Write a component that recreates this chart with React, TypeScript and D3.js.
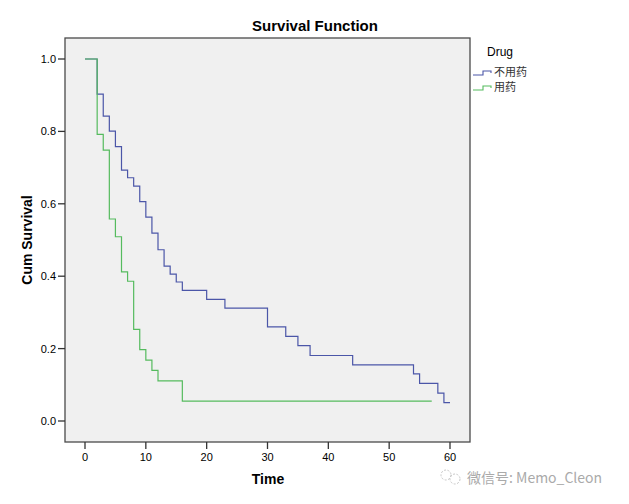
import React from "react";
import * as d3 from "d3";

const seriesNames = ["不用药", "用药"];
const seriesColors = ["#4b56a8", "#55bb5e"];

// Kaplan-Meier step points: [time, survival]
const times1 = [0, 2, 3, 4, 5, 6, 7, 8, 9, 10, 11, 12, 13, 14, 15, 16, 20, 23, 30, 33, 35, 37, 44, 54, 55, 58, 59, 60];
const surv1 = [1.0, 0.903, 0.842, 0.801, 0.758, 0.693, 0.672, 0.649, 0.606, 0.563, 0.519, 0.473, 0.428, 0.406, 0.384, 0.361, 0.336, 0.312, 0.260, 0.234, 0.208, 0.181, 0.155, 0.130, 0.104, 0.077, 0.051, 0.051];
const times2 = [0, 2, 3, 4, 5, 6, 7, 8, 9, 10, 11, 12, 16, 57];
const surv2 = [1.0, 0.792, 0.748, 0.558, 0.509, 0.412, 0.386, 0.253, 0.197, 0.168, 0.140, 0.111, 0.055, 0.055];

const xTicks = [0, 10, 20, 30, 40, 50, 60];
const yTicks = [0, 0.2, 0.4, 0.6, 0.8, 1.0];

const FONT = "'Liberation Sans', Arial, sans-serif";

export default function App() {
  const W = 629, H = 504;
  const box = { left: 65, right: 470, top: 38, bottom: 442 };
  const x = d3.scaleLinear().domain([0, 60]).range([85, 450]);
  const y = d3.scaleLinear().domain([0, 1]).range([421, 59]);
  const line = d3
    .line<[number, number]>()
    .x((d) => x(d[0]))
    .y((d) => y(d[1]))
    .curve(d3.curveStepAfter);
  const data1: [number, number][] = times1.map((t, i) => [t, surv1[i]]);
  const data2: [number, number][] = times2.map((t, i) => [t, surv2[i]]);

  return (
    <svg width={W} height={H} style={{ position: "absolute", left: 0, top: 0, background: "#fff" }} fontFamily={FONT}>
      <rect x={0} y={0} width={W} height={H} fill="#fff" />
      <text x={315} y={31} textAnchor="middle" fontSize={15} fontWeight="bold" fill="#000">
        Survival Function
      </text>
      <rect
        x={box.left}
        y={box.top}
        width={box.right - box.left}
        height={box.bottom - box.top}
        fill="#f0f0f0"
        stroke="#4a4a4a"
        strokeWidth={1.3}
      />
      {yTicks.map((t) => (
        <g key={"y" + t}>
          <line x1={58} x2={box.left} y1={y(t)} y2={y(t)} stroke="#333" strokeWidth={1.3} />
          <text x={56} y={y(t) + 4} textAnchor="end" fontSize={11} fill="#000">
            {t.toFixed(1)}
          </text>
        </g>
      ))}
      {xTicks.map((t) => (
        <g key={"x" + t}>
          <line x1={x(t)} x2={x(t)} y1={box.bottom} y2={box.bottom + 7} stroke="#333" strokeWidth={1.3} />
          <text x={x(t)} y={461} textAnchor="middle" fontSize={11} fill="#000">
            {t}
          </text>
        </g>
      ))}
      <text x={268} y={484} textAnchor="middle" fontSize={14} fontWeight="bold" fill="#000">
        Time
      </text>
      <text
        transform={`translate(32,240) rotate(-90)`}
        textAnchor="middle"
        fontSize={14}
        fontWeight="bold"
        fill="#000"
      >
        Cum Survival
      </text>
      <path d={line(data1) || ""} fill="none" stroke={seriesColors[0]} strokeWidth={1.2} />
      <path d={line(data2) || ""} fill="none" stroke={seriesColors[1]} strokeWidth={1.2} />
      <text x={487} y={56} fontSize={12} fill="#000">
        Drug
      </text>
      {seriesNames.map((n, i) => {
        const cy = 75 + i * 15;
        return (
          <g key={n}>
            <path
              d={`M473,${cy} H483 V${cy - 4} H491 V${cy - 2}`}
              fill="none"
              stroke={seriesColors[i]}
              strokeWidth={1.1}
            />
            <text x={494} y={cy + 1} fontSize={11} fill="#333" fontFamily="'Noto Sans CJK SC', sans-serif">
              {n}
            </text>
          </g>
        );
      })}
      <g opacity={0.55}>
        <circle cx={446} cy={475} r={5} fill="none" stroke="#999" strokeWidth={1} strokeDasharray="2,1.5" />
        <circle cx={455} cy={479} r={5} fill="none" stroke="#999" strokeWidth={1} strokeDasharray="2,1.5" />
      </g>
      <text x={467} y={483} fontSize={14} fill="#aaa" fontFamily="'Noto Sans CJK SC', sans-serif">
        微信号: Memo_Cleon
      </text>
    </svg>
  );
}
